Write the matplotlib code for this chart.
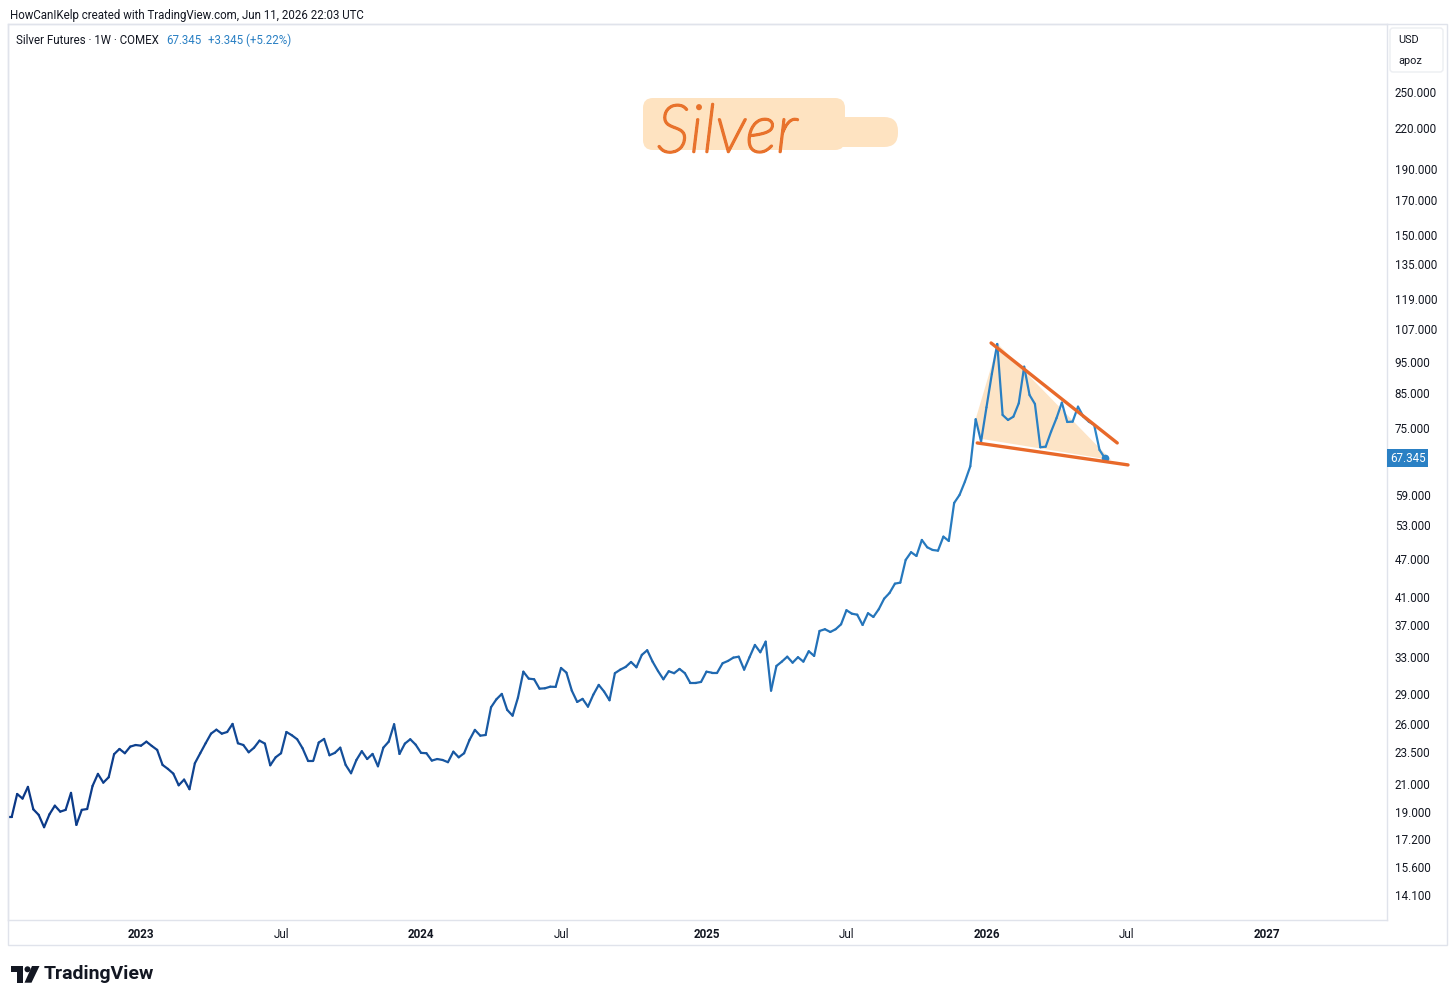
import numpy as np
import pandas as pd
import matplotlib
matplotlib.use("Agg")
import matplotlib.pyplot as plt
import matplotlib.dates as mdates
import matplotlib.patheffects as pe
from matplotlib.collections import LineCollection
from matplotlib.patches import Rectangle, FancyBboxPatch, Polygon, Circle
from matplotlib.ticker import FixedLocator, FixedFormatter, NullLocator
from matplotlib.colors import to_rgb

plt.rcParams["font.family"] = ["Roboto", "DejaVu Sans"]

# ---------------- data ----------------
first_bar = "2022-07-11"          # first weekly bar (Monday)
close_prices = [
    18.66, 18.66, 20.24, 19.91, 20.76, 19.16, 18.78, 17.97, 18.82, 19.41,
    19.00, 19.12, 20.32, 18.12, 19.12, 19.18, 20.83, 21.75, 21.08, 21.49,
    23.34, 23.78, 23.42, 23.98, 24.12, 24.06, 24.41, 24.04, 23.70, 22.46,
    22.14, 21.77, 20.88, 21.31, 20.59, 22.59, 23.42, 24.27, 25.12, 25.48,
    25.12, 25.27, 26.01, 24.27, 24.12, 23.50, 23.89, 24.50, 24.24, 22.43,
    23.08, 23.42, 25.27, 24.98, 24.62, 23.84, 22.81, 22.81, 24.33, 24.65,
    23.25, 23.45, 23.89, 22.46, 21.80, 22.86, 23.59, 22.94, 23.36, 22.35,
    23.89, 24.41, 25.98, 23.36, 24.24, 24.62, 24.15, 23.45, 23.42, 22.81,
    22.94, 22.86, 22.68, 23.55, 23.08, 23.42, 24.56, 25.46, 24.94, 25.00,
    27.61, 28.41, 28.96, 27.35, 26.79, 28.58, 31.36, 30.59, 30.52, 29.51,
    29.55, 29.72, 29.70, 31.78, 31.25, 29.30, 28.14, 28.45, 27.67, 28.89,
    29.91, 29.20, 28.31, 31.19, 31.59, 31.90, 32.47, 31.86, 33.30, 33.86,
    32.51, 31.44, 30.52, 31.41, 31.19, 31.67, 31.19, 30.12, 30.12, 30.23,
    31.36, 31.25, 31.25, 32.32, 32.59, 32.98, 33.09, 31.59, 33.03, 34.51,
    33.62, 34.92, 29.30, 32.01, 32.51, 33.09, 32.39, 33.03, 32.51, 33.74,
    33.18, 36.28, 36.51, 36.15, 36.51, 37.16, 39.08, 38.60, 38.46, 37.07,
    38.66, 38.15, 39.22, 40.73, 41.57, 42.98, 43.14, 46.79, 48.10, 47.46,
    50.26, 48.96, 48.49, 48.37, 50.86, 50.08, 57.38, 59.05, 61.93, 65.44,
    77.43, 71.51, 80.80, 91.06, 101.38, 78.63, 77.23, 78.15, 81.99, 93.47,
    84.46, 81.79, 70.04, 70.19, 74.07, 77.71, 82.17, 76.68, 76.77, 81.00,
    78.15, 76.77, 75.87, 69.37, 67.345,
]
price_ticks = [250, 220, 190, 170, 150, 135, 119, 107, 95, 85, 75, 59, 53,
               47, 41, 37, 33, 29, 26, 23.5, 21, 19, 17.2, 15.6, 14.1]
time_tick_dates = ["2023-01-02", "2023-07-03", "2024-01-01", "2024-07-01",
                   "2025-01-06", "2025-07-07", "2026-01-05", "2026-07-06",
                   "2027-01-04"]
time_tick_labels = ["2023", "Jul", "2024", "Jul", "2025", "Jul", "2026",
                    "Jul", "2027"]
last_price = 67.345
change_abs = 3.345
change_pct = 5.22

upper_trend_dates = ["2026-01-11", "2026-06-24"]
upper_trend_prices = [101.75, 71.13]
lower_trend_dates = ["2025-12-24", "2026-07-08"]
lower_trend_prices = [71.13, 65.75]
wedge_dates = ["2025-12-22", "2026-01-20", "2026-06-16", "2025-12-30"]
wedge_prices = [77.51, 101.38, 66.93, 72.16]

dates = pd.date_range(first_bar, periods=len(close_prices), freq="7D")

# ---------------- layout ----------------
W, H = 1456, 1000
fig = plt.figure(figsize=(W / 100, H / 100), dpi=100)
fig.patch.set_facecolor("white")
L, R, T, B = 8, 1387, 24, 920
ax = fig.add_axes([L / W, 1 - B / H, (R - L) / W, (B - T) / H])
ax.set_yscale("log")
ref = mdates.date2num(pd.Timestamp("2023-01-02"))
ax.set_xlim(ref + 7 * (-24.70), ref + 7 * 231.38)
ax.set_ylim(12.89, 318.8)

grid_col = "#e0e3eb"
for s in ax.spines.values():
    s.set_color(grid_col)
    s.set_linewidth(1)

# wedge fill
wx = mdates.date2num(pd.to_datetime(wedge_dates))
ax.fill(wx, wedge_prices, color="#fde4c6", lw=0, zorder=1)

# gradient price line
xs = mdates.date2num(dates)
ys = np.array(close_prices)
pts = np.column_stack([xs, ys])
segs = np.stack([pts[:-1], pts[1:]], axis=1)
c0 = np.array(to_rgb("#0a3786"))
c1 = np.array(to_rgb("#2c86c9"))
t = np.linspace(0, 1, len(segs))[:, None]
cols = c0 * (1 - t) + c1 * t
lc = LineCollection(segs, colors=cols, linewidths=1.6, capstyle="round",
                    joinstyle="round", zorder=3)
ax.add_collection(lc)
ax.plot(xs[-1], ys[-1], "o", ms=4.5, color="#2c86c9", zorder=4)

# trend lines
orange = "#e8692a"
ax.plot(mdates.date2num(pd.to_datetime(upper_trend_dates)), upper_trend_prices,
        color=orange, lw=2.4, solid_capstyle="round", zorder=5)
ax.plot(mdates.date2num(pd.to_datetime(lower_trend_dates)), lower_trend_prices,
        color=orange, lw=2.4, solid_capstyle="round", zorder=5)

# axes ticks
ax.yaxis.tick_right()
ax.yaxis.set_major_locator(FixedLocator(price_ticks))
ax.yaxis.set_major_formatter(FixedFormatter([f"{v:.3f}" for v in price_ticks]))
ax.yaxis.set_minor_locator(NullLocator())
ax.tick_params(axis="y", which="both", length=0, pad=5.6, labelsize=8.4,
               labelcolor="#131722")
tick_x = mdates.date2num(pd.to_datetime(time_tick_dates))
ax.xaxis.set_major_locator(FixedLocator(tick_x))
ax.xaxis.set_major_formatter(FixedFormatter(time_tick_labels))
ax.xaxis.set_minor_locator(NullLocator())
ax.tick_params(axis="x", which="both", length=0, pad=5.5, labelsize=8.4,
               labelcolor="#131722")
for lab in ax.get_xticklabels():
    if lab.get_text().isdigit():
        lab.set_fontweight("bold")

# last price label
ax.annotate(f"{last_price:.3f}", xy=(1, last_price),
            xycoords=ax.get_yaxis_transform(), xytext=(2.0, 0),
            textcoords="offset points", ha="left", va="center",
            fontsize=8.4, color="white",
            bbox=dict(boxstyle="square,pad=0.22", fc="#2a80c4", ec="none"),
            annotation_clip=False, zorder=6)

# ---------------- overlay (pixel coordinates) ----------------
ov = fig.add_axes([0, 0, 1, 1])
ov.set_xlim(0, W)
ov.set_ylim(H, 0)
ov.axis("off")
ov.patch.set_visible(False)

ov.add_patch(Rectangle((8, 24), 1439, 921, fill=False, ec=grid_col, lw=1))

ov.text(10, 16, "HowCanIKelp created with TradingView.com, Jun 11, 2026 22:03 UTC",
        fontsize=8.3, color="#131722", ha="left", va="center")
ov.text(16, 40, "Silver Futures · 1W · COMEX", fontsize=8.3,
        color="#131722", ha="left", va="center")
ov.text(166, 40, f"{last_price:.3f}", fontsize=8.3, color="#2a80c4",
        ha="left", va="center")
ov.text(208, 40, f"+{change_abs:.3f} (+{change_pct:.2f}%)", fontsize=8.3,
        color="#2a80c4", ha="left", va="center")

# currency box
ov.add_patch(FancyBboxPatch((1390, 28), 53, 44,
                            boxstyle="round,pad=0,rounding_size=3",
                            fc="white", ec="#eceef2", lw=1))
ov.text(1398, 40, "USD", fontsize=7.9, color="#131722", ha="left", va="center")
ov.text(1398, 61, "apoz", fontsize=7.9, color="#131722", ha="left", va="center")

# handwritten "Silver" note
hl = "#fee3c1"
ov.add_patch(FancyBboxPatch((643, 98), 202, 52,
                            boxstyle="round,pad=0,rounding_size=10",
                            fc=hl, ec="none", zorder=1))
ov.add_patch(FancyBboxPatch((760, 117), 138, 30,
                            boxstyle="round,pad=0,rounding_size=14",
                            fc=hl, ec="none", zorder=1))
ink = "#e8722c"
ov.text(657, 152, "Silver", fontsize=48, color=ink, fontfamily="Lato",
        fontweight="light", fontstyle="italic", ha="left", va="baseline",
        zorder=2,
        path_effects=[pe.Stroke(linewidth=1.8, foreground=ink), pe.Normal()])

# TradingView logo
ov.add_patch(Polygon([(10.5, 966), (22.5, 966), (22.5, 982.7), (16.5, 982.7),
                      (16.5, 971.5), (10.5, 971.5)], closed=True,
                     fc="#131722", ec="none"))
ov.add_patch(Circle((27.5, 969.3), 3.0, fc="#131722", ec="none"))
ov.add_patch(Polygon([(32, 966), (39.5, 966), (31.5, 982.7), (24.5, 982.7)],
                     closed=True, fc="#131722", ec="none"))
ov.text(44, 974, "TradingView", fontsize=14.0, fontweight="bold",
        color="#131722", ha="left", va="center")

fig.savefig("out.png", dpi=100, facecolor="white")
